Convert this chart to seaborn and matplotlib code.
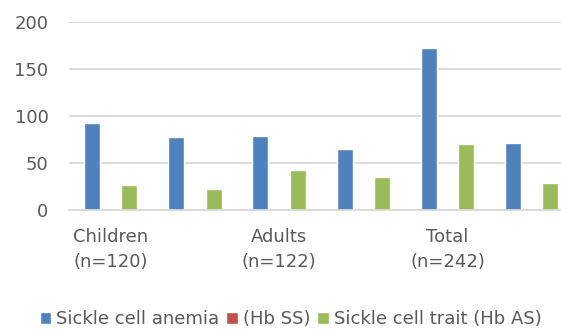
import matplotlib
matplotlib.use("Agg")
import matplotlib.pyplot as plt
import seaborn as sns
import pandas as pd

# Group labels shown under the axis, one per pair of columns
group_labels = ["Children\n(n=120)", "Adults\n(n=122)", "Total\n(n=242)"]

# Six columns: counts and percentages for each group
categories = ["Children n", "Children %", "Adults n", "Adults %", "Total n", "Total %"]
series_names = ["Sickle cell anemia", "(Hb SS)", "Sickle cell trait (Hb AS)"]
anemia = [93, 77.5, 79, 64.8, 172, 71.1]
hb_ss = [0, 0, 0, 0, 0, 0]
trait = [27, 22.5, 43, 35.2, 70, 28.9]

colors = ["#4f81bd", "#c0504d", "#9bbb59"]
text_grey = "#595959"

rows = []
for name, vals in zip(series_names, [anemia, hb_ss, trait]):
    for cat, v in zip(categories, vals):
        rows.append({"category": cat, "series": name, "value": v})
df = pd.DataFrame(rows)

sns.set_theme(style="white")
plt.rcParams["font.family"] = ["DejaVu Sans"]

fig = plt.figure(figsize=(5.61, 3.31), dpi=100)
ax = fig.add_axes([0.1223, 0.3656, 0.9005, 0.568])

sns.barplot(data=df, x="category", y="value", hue="series", order=categories,
            hue_order=series_names, palette=colors, width=0.668, gap=0.15,
            saturation=1, ax=ax, legend=True)

ax.set_xlim(-0.5, 5.5)
ax.set_ylim(0, 200)
ax.set_yticks([0, 50, 100, 150, 200])
ax.yaxis.grid(True, color="#d9d9d9", linewidth=1.3)
ax.set_axisbelow(True)
for s in ["top", "right", "left"]:
    ax.spines[s].set_visible(False)
ax.spines["bottom"].set_color("#d9d9d9")
ax.spines["bottom"].set_linewidth(1.3)
ax.tick_params(axis="y", length=0, pad=14.4, labelsize=13, labelcolor=text_grey)
ax.set_xlabel("")
ax.set_ylabel("")

ax.set_xticks([0, 2, 4])
ax.set_xticklabels(group_labels, fontsize=13, color=text_grey, linespacing=1.5)
ax.tick_params(axis="x", length=0, pad=13)

handles, labels = ax.get_legend_handles_labels()
ax.legend_.remove()
fig.legend(handles, labels, loc="center left", bbox_to_anchor=(0.071, 0.036),
           ncol=3, frameon=False, fontsize=13, labelcolor=text_grey,
           handlelength=0.62, handleheight=0.68, handletextpad=0.28,
           columnspacing=0.4, borderaxespad=0, borderpad=0)

fig.savefig("out.png", dpi=100)
